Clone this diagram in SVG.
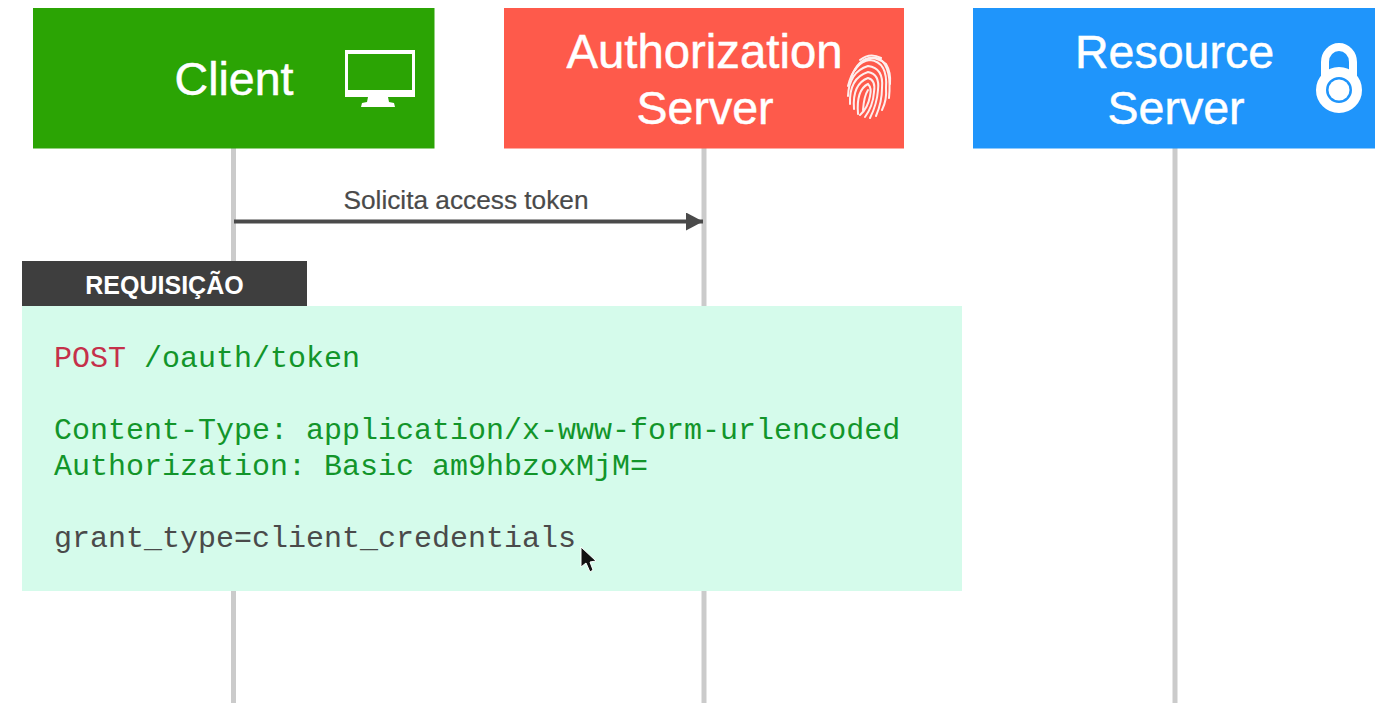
<svg xmlns="http://www.w3.org/2000/svg" width="1392" height="703" viewBox="0 0 1392 703">
<style>
.life{stroke:#cbcbcb;stroke-width:5;fill:none}
.title{font-family:"Liberation Sans",Arial,sans-serif;font-size:46.500px;fill:#fff;stroke:#fff;stroke-width:.5;text-anchor:middle}
.code{font-family:"Liberation Mono","Courier New",monospace;font-size:30px}
.g{fill:#12952a}.r{fill:#c5304a}.k{fill:#4a4a4a}
.fp{fill:none;stroke:#fff;stroke-width:2;stroke-linecap:round;opacity:.9}
</style>
<defs><marker id="arrow" markerUnits="userSpaceOnUse" markerWidth="18" markerHeight="18" refX="17" refY="9" orient="auto"><path d="M0 0L17 9L0 18Z" fill="#4a4a4a"/></marker></defs>
<rect width="1392" height="703" fill="#fff"/>
<g id="connectors">
<line class="life" x1="233.500" y1="148" x2="233.500" y2="703"/>
<line class="life" x1="704" y1="148" x2="704" y2="703"/>
<line class="life" x1="1175" y1="148" x2="1175" y2="703"/>
<line x1="234" y1="221.500" x2="703" y2="221.500" stroke="#4a4a4a" stroke-width="4" marker-end="url(#arrow)"/>
<text x="466" y="209" font-family="'Liberation Sans',Arial,sans-serif" font-size="26" fill="#4a4a4a" stroke="#4a4a4a" stroke-width=".2" text-anchor="middle" textLength="245" lengthAdjust="spacingAndGlyphs">Solicita access token</text>
</g>
<g id="client">
<rect x="33" y="8" width="401.500" height="140.500" fill="#2ba404"/>
<text class="title" x="234" y="95">Client</text>
<path d="M345 50H415V97H388L389 102L394 103L395 107H361L362 103L367 102L368 97H345ZM348 54V90H412V54Z" fill="#fff" fill-rule="evenodd"/>
</g>
<g id="authorization-server">
<rect x="504" y="8" width="400" height="140.500" fill="#fe5a4b"/>
<text class="title" x="704.500" y="68" style="font-size:47.300px">Authorization</text>
<text class="title" x="705" y="124">Server</text>
<g class="fp">
<path d="M860 60Q870 52 881 58"/>
<path d="M855 70Q868 50 886 64Q891 72 890 84"/>
<path d="M851 78Q860 53 880 59Q892 68 889 98"/>
<path d="M848 86Q854 62 870 60Q888 62 886 88Q887 100 882 110"/>
<path d="M848 96Q849 72 868 66Q884 68 882 88Q882 102 876 116"/>
<path d="M850 104Q849 78 868 72Q880 74 878 90Q877 104 870 118"/>
<path d="M854 109Q852 84 868 78Q876 80 874 92Q873 106 865 117"/>
<path d="M858 114Q856 90 868 84Q872 88 870 96Q868 108 860 115"/>
<path d="M863 110Q864 96 868 90"/>
</g>
</g>
<g id="resource-server">
<rect x="973" y="8" width="402" height="140.500" fill="#1f95fb"/>
<text class="title" x="1174.500" y="68">Resource</text>
<text class="title" x="1176" y="124">Server</text>
<path d="M1325 78V62A14 15 0 0 1 1353 62V78" fill="none" stroke="#fff" stroke-width="8"/>
<circle cx="1339" cy="90" r="18" fill="none" stroke="#fff" stroke-width="10"/>
<circle cx="1339" cy="90" r="12" fill="#1f95fb"/>
<circle cx="1339" cy="90" r="10.500" fill="#fff"/>
</g>
<g id="request">
<rect x="22" y="306" width="940" height="285" fill="#d5fbeb"/>
<rect x="22" y="261" width="285" height="45" fill="#3e3e3e"/>
<text x="164.500" y="294" font-family="'Liberation Sans',Arial,sans-serif" font-size="25" font-weight="700" fill="#fff" text-anchor="middle">REQUISIÇÃO</text>
<text class="code r" x="54" y="367">POST</text>
<text class="code g" x="144" y="367">/oauth/token</text>
<text class="code g" x="54" y="439">Content-Type: application/x-www-form-urlencoded</text>
<text class="code g" x="54" y="475">Authorization: Basic am9hbzoxMjM=</text>
<text class="code k" x="54" y="547">grant_type=client_credentials</text>
</g>
<path d="M581 547V567L586 563L590 572L593 570L590 562L596 561Z" fill="#111" stroke="#fff" stroke-width="1"/>
</svg>
